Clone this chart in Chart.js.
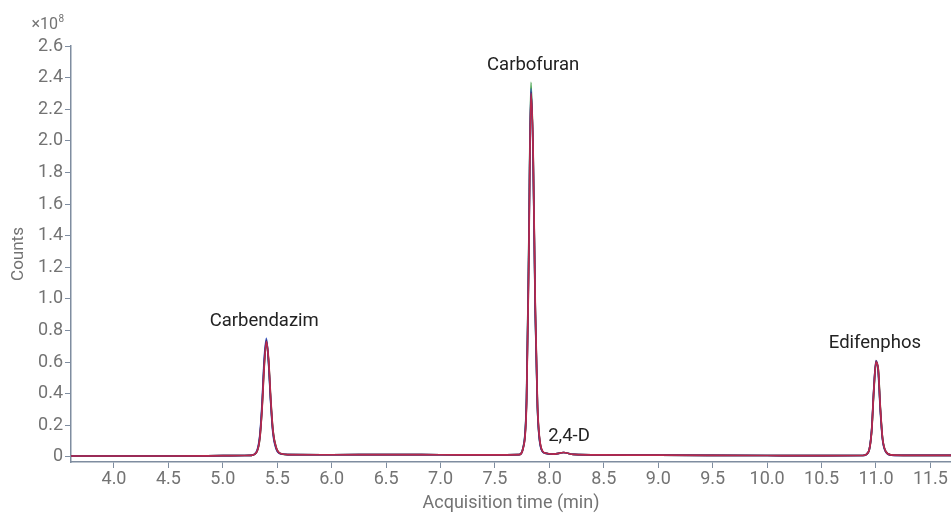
<!DOCTYPE html>
<html>
<head>
<meta charset="utf-8">
<script src="https://cdn.jsdelivr.net/npm/chart.js@4/dist/chart.umd.min.js"></script>
<style>
  html, body { margin: 0; padding: 0; background: #fff; }
  #wrap { width: 951px; height: 514px; }
</style>
</head>
<body>
<div id="wrap"><canvas id="chart"></canvas></div>
<script>
// retention times (min)
const times = [3.6, 4.0, 4.5, 5.0, 5.2,
  5.26, 5.31, 5.34, 5.36, 5.38, 5.40, 5.42, 5.44, 5.46, 5.49, 5.53,
  5.6, 6.0, 6.5, 7.0, 7.5,
  7.72, 7.76, 7.79, 7.81, 7.83, 7.85, 7.87, 7.89, 7.92, 7.96,
  8.04, 8.13, 8.22, 8.5, 9.0, 9.5, 10.0, 10.5,
  10.88, 10.93, 10.96, 10.98, 11.00, 11.02, 11.04, 11.06, 11.09, 11.14,
  11.3, 11.7];

// counts (x10^8), one array per overlaid trace
const greenTrace = [0.006, 0.006, 0.006, 0.008, 0.009,
  0.01, 0.03, 0.12, 0.31, 0.58, 0.72, 0.61, 0.36, 0.17, 0.06, 0.021,
  0.015, 0.014, 0.015, 0.014, 0.013,
  0.015, 0.065, 0.37, 1.32, 2.37, 1.93, 0.92, 0.32, 0.065, 0.024,
  0.018, 0.028, 0.016, 0.013, 0.011, 0.01, 0.009, 0.008,
  0.009, 0.03, 0.16, 0.41, 0.59, 0.56, 0.31, 0.12, 0.035, 0.013,
  0.01, 0.01];
const blueTrace = [0.006, 0.006, 0.006, 0.008, 0.009,
  0.01, 0.035, 0.14, 0.34, 0.62, 0.75, 0.59, 0.34, 0.15, 0.05, 0.02,
  0.015, 0.014, 0.015, 0.014, 0.013,
  0.015, 0.065, 0.38, 1.30, 2.33, 1.90, 0.90, 0.31, 0.06, 0.024,
  0.018, 0.028, 0.016, 0.013, 0.011, 0.01, 0.009, 0.008,
  0.009, 0.031, 0.17, 0.43, 0.60, 0.54, 0.29, 0.11, 0.032, 0.012,
  0.01, 0.01];
const navyTrace = [0.006, 0.006, 0.006, 0.008, 0.009,
  0.01, 0.03, 0.13, 0.32, 0.60, 0.74, 0.60, 0.35, 0.16, 0.055, 0.02,
  0.015, 0.014, 0.015, 0.014, 0.013,
  0.015, 0.06, 0.36, 1.26, 2.31, 1.92, 0.93, 0.32, 0.065, 0.024,
  0.018, 0.028, 0.016, 0.013, 0.011, 0.01, 0.009, 0.008,
  0.009, 0.03, 0.17, 0.43, 0.61, 0.55, 0.30, 0.115, 0.033, 0.012,
  0.01, 0.01];
const redTrace = [0.006, 0.006, 0.006, 0.008, 0.009,
  0.01, 0.03, 0.12, 0.30, 0.57, 0.73, 0.62, 0.37, 0.17, 0.06, 0.022,
  0.015, 0.014, 0.015, 0.014, 0.013,
  0.015, 0.06, 0.34, 1.22, 2.30, 1.95, 0.96, 0.34, 0.07, 0.025,
  0.018, 0.028, 0.016, 0.013, 0.011, 0.01, 0.009, 0.008,
  0.009, 0.03, 0.16, 0.42, 0.60, 0.56, 0.31, 0.12, 0.035, 0.013,
  0.01, 0.01];

const xTicks = [4.0, 4.5, 5.0, 5.5, 6.0, 6.5, 7.0, 7.5, 8.0, 8.5, 9.0, 9.5, 10.0, 10.5, 11.0, 11.5];
const yTicks = [0, 0.2, 0.4, 0.6, 0.8, 1.0, 1.2, 1.4, 1.6, 1.8, 2.0, 2.2, 2.4, 2.6];

// peak labels
const peakNames = ['Carbendazim', 'Carbofuran', '2,4-D', 'Edifenphos'];
const peakLabelX = [5.38, 7.85, 8.18, 10.99];
const peakLabelY = [0.855, 2.475, 0.13, 0.72];

const axisColor = '#7f8da0';
const tickColor = '#737373';

function toPoints(vals) {
  return vals.map((v, i) => ({ x: times[i], y: v }));
}

function trace(vals, color) {
  return {
    data: toPoints(vals),
    borderColor: color,
    borderWidth: 1.7,
    pointRadius: 0,
    fill: false,
    cubicInterpolationMode: 'monotone'
  };
}

const peakLabels = {
  id: 'peakLabels',
  afterDatasetsDraw(chart) {
    const { ctx, scales: { x, y }, chartArea } = chart;
    ctx.save();
    ctx.fillStyle = '#222';
    ctx.font = '18.5px Roboto';
    ctx.textAlign = 'center';
    ctx.textBaseline = 'middle';
    peakNames.forEach((name, i) => {
      ctx.fillText(name, x.getPixelForValue(peakLabelX[i]), y.getPixelForValue(peakLabelY[i]));
    });
    // exponent above the y axis
    ctx.fillStyle = tickColor;
    ctx.textAlign = 'right';
    ctx.font = '16px Roboto';
    ctx.fillText('×10', chartArea.left - 13, chartArea.top - 21);
    ctx.font = '10px Roboto';
    ctx.fillText('8', chartArea.left - 7, chartArea.top - 27);
    ctx.restore();
  }
};

new Chart(document.getElementById('chart'), {
  type: 'line',
  data: {
    datasets: [
      trace(redTrace, '#b8294c'),
      trace(navyTrace, '#44296e'),
      trace(blueTrace, '#3d5fc6'),
      trace(greenTrace, '#3f9f46')
    ]
  },
  options: {
    responsive: true,
    maintainAspectRatio: false,
    animation: false,
    layout: { padding: { top: 46, right: 0, left: 0, bottom: 0 } },
    plugins: { legend: { display: false }, tooltip: { enabled: false } },
    scales: {
      x: {
        type: 'linear',
        min: 3.605,
        max: 11.689,
        afterBuildTicks: (s) => { s.ticks = xTicks.map(v => ({ value: v })); },
        afterFit: (s) => { s.height = 52; },
        border: { color: axisColor, width: 1.5 },
        grid: { drawOnChartArea: false, color: axisColor, tickLength: 6 },
        ticks: {
          color: tickColor,
          font: { family: 'Roboto', size: 18 },
          padding: 1,
          maxRotation: 0,
          callback: (v) => v.toFixed(1)
        },
        title: {
          display: true,
          text: 'Acquisition time (min)',
          color: tickColor,
          font: { family: 'Roboto', size: 18 },
          padding: { top: 0, bottom: 0 }
        }
      },
      y: {
        min: -0.032,
        max: 2.6,
        afterBuildTicks: (s) => { s.ticks = yTicks.map(v => ({ value: v })); },
        afterFit: (s) => { s.width = 71; },
        border: { color: axisColor, width: 1.5 },
        grid: { drawOnChartArea: false, color: axisColor, tickLength: 6 },
        ticks: {
          color: tickColor,
          font: { family: 'Roboto', size: 18 },
          padding: 2,
          callback: (v) => v === 0 ? '0' : v.toFixed(1)
        },
        title: {
          display: true,
          text: 'Counts',
          color: tickColor,
          font: { family: 'Roboto', size: 17 },
          padding: { top: 9, bottom: 0 }
        }
      }
    }
  },
  plugins: [peakLabels]
});
</script>
</body>
</html>
